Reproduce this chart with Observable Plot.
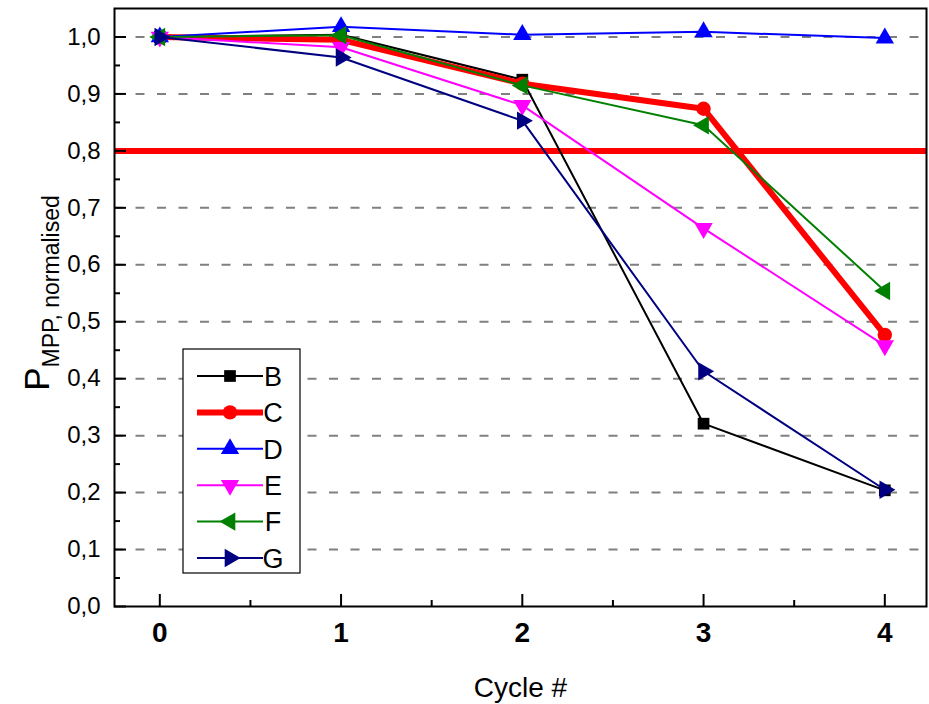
<!DOCTYPE html>
<html>
<head>
<meta charset="utf-8">
<script src="https://cdn.jsdelivr.net/npm/d3@7"></script>
<script src="https://cdn.jsdelivr.net/npm/@observablehq/plot@0.6"></script>
<style>
  html, body { margin: 0; padding: 0; background: #fff; }
  #chart { width: 929px; height: 704px; }
</style>
</head>
<body>
<div id="chart"></div>
<script>
// Normalised maximum-power-point output per cycle, for each sample
const cycles = [0, 1, 2, 3, 4];
const seriesNames = ["B", "C", "D", "E", "F", "G"];
const valuesB = [1.000, 1.004, 0.925, 0.321, 0.204];
const valuesC = [1.000, 0.995, 0.918, 0.874, 0.477];
const valuesD = [1.000, 1.018, 1.004, 1.009, 0.998];
const valuesE = [1.000, 0.982, 0.880, 0.664, 0.458];
const valuesF = [1.000, 1.003, 0.915, 0.845, 0.554];
const valuesG = [1.000, 0.964, 0.853, 0.413, 0.205];
const threshold = 0.8;
const yMajorTicks = [0, 0.1, 0.2, 0.3, 0.4, 0.5, 0.6, 0.7, 0.8, 0.9, 1.0];
const yMinorTicks = [0.05, 0.15, 0.25, 0.35, 0.45, 0.55, 0.65, 0.75, 0.85, 0.95];
const xMinorTicks = [0.5, 1.5, 2.5, 3.5];
const gridTicks = [0.1, 0.2, 0.3, 0.4, 0.5, 0.6, 0.7, 0.8, 0.9, 1.0];

const seriesValues = [valuesB, valuesC, valuesD, valuesE, valuesF, valuesG];

// Triangle symbol pointing in a given direction (degrees, 0 = up)
function triangle(angleDeg) {
  const a = angleDeg * Math.PI / 180, cos = Math.cos(a), sin = Math.sin(a);
  return {
    draw(ctx, size) {
      const y = -Math.sqrt(size / (Math.sqrt(3) * 3));
      const pts = [[0, 2 * y], [-Math.sqrt(3) * y, -y], [Math.sqrt(3) * y, -y]]
        .map(([px, py]) => [px * cos - py * sin, px * sin + py * cos]);
      ctx.moveTo(pts[0][0], pts[0][1]);
      ctx.lineTo(pts[1][0], pts[1][1]);
      ctx.lineTo(pts[2][0], pts[2][1]);
      ctx.closePath();
    }
  };
}

const styles = {
  B: {color: "#000000", width: 2, symbol: "square", r: 6.6},
  C: {color: "#ff0000", width: 6, symbol: "circle", r: 7.2},
  D: {color: "#0000ff", width: 2, symbol: triangle(0), r: 6.8},
  E: {color: "#ff00ff", width: 2, symbol: triangle(180), r: 6.8},
  F: {color: "#008000", width: 2, symbol: triangle(270), r: 6.8},
  G: {color: "#000080", width: 2, symbol: triangle(90), r: 6.8}
};

const rows = seriesNames.flatMap((s, i) =>
  cycles.map((c, j) => ({series: s, cycle: c, value: seriesValues[i][j]})));

const W = 929, H = 704;
const margin = {top: 8, right: 3, bottom: 98, left: 114};
const plotW = W - margin.left - margin.right;
const plotH = H - margin.top - margin.bottom;
const font = "'Liberation Sans', Arial, Helvetica, sans-serif";

const seriesMarks = seriesNames.flatMap(s => {
  const st = styles[s];
  const data = rows.filter(d => d.series === s);
  return [
    Plot.line(data, {x: "cycle", y: "value", stroke: st.color, strokeWidth: st.width}),
    Plot.dot(data, {x: "cycle", y: "value", symbol: st.symbol, r: st.r, fill: st.color, stroke: "none"})
  ];
});

const chart = Plot.plot({
  width: W,
  height: H,
  marginTop: margin.top,
  marginRight: margin.right,
  marginBottom: margin.bottom,
  marginLeft: margin.left,
  style: {fontFamily: font, background: "#fff", overflow: "visible"},
  x: {domain: [-0.25, 4.23], axis: null},
  y: {domain: [0, 1.05], axis: null},
  symbol: {type: "identity"},
  marks: [
    Plot.gridY(gridTicks, {stroke: "#808080", strokeOpacity: 1, strokeWidth: 2, strokeDasharray: "9,12.5"}),
    Plot.ruleY([threshold], {stroke: "#ff0000", strokeWidth: 6}),
    ...seriesMarks,
    // inward tick marks
    Plot.ruleX(cycles, {insetTop: plotH - 12, stroke: "#000", strokeWidth: 2}),
    Plot.ruleX(xMinorTicks, {insetTop: plotH - 6, stroke: "#000", strokeWidth: 2}),
    Plot.ruleY(yMajorTicks, {insetRight: plotW - 12, stroke: "#000", strokeWidth: 2}),
    Plot.ruleY(yMinorTicks, {insetRight: plotW - 6, stroke: "#000", strokeWidth: 2}),
    Plot.axisX({ticks: cycles, tickSize: 0, tickPadding: 16, fontSize: 28, fontWeight: "bold", fill: "#000", label: null, tickFormat: d => String(d)}),
    Plot.axisY({ticks: yMajorTicks, tickSize: 0, tickPadding: 14, fontSize: 24, fill: "#000", label: null,
      tickFormat: d => d.toFixed(1).replace(".", ",")}),
    Plot.text(["Cycle #"], {frameAnchor: "bottom", dy: 90, fontSize: 28, fill: "#000"}),
    Plot.frame({stroke: "#000", strokeWidth: 2})
  ]
});

document.getElementById("chart").appendChild(chart);

const svg = d3.select(chart);

// Y axis title with subscript
const yTitle = svg.append("text")
  .attr("transform", `translate(49, ${margin.top + plotH / 2 - 14}) rotate(-90)`)
  .attr("text-anchor", "middle")
  .attr("font-family", font)
  .attr("fill", "#000");
yTitle.append("tspan").attr("font-size", 35).text("P");
yTitle.append("tspan").attr("font-size", 23).attr("dy", 10).text("MPP, normalised");

// Legend box
const legend = svg.append("g").attr("transform", "translate(183, 349)");
legend.append("rect").attr("width", 117).attr("height", 224)
  .attr("fill", "#fff").attr("stroke", "#000").attr("stroke-width", 1.2);
seriesNames.forEach((s, i) => {
  const st = styles[s];
  const cy = 27 + i * 36.4;
  const g = legend.append("g").attr("transform", `translate(0, ${cy})`);
  g.append("line").attr("x1", 14).attr("x2", 80).attr("y1", 0).attr("y2", 0)
    .attr("stroke", st.color).attr("stroke-width", st.width);
  const symType = typeof st.symbol === "string"
    ? (st.symbol === "square" ? d3.symbolSquare : d3.symbolCircle) : st.symbol;
  g.append("path").attr("transform", "translate(47, 0)")
    .attr("d", d3.symbol(symType, Math.PI * st.r * st.r)())
    .attr("fill", st.color);
  g.append("text").attr("x", 90).attr("y", 0).attr("dy", "0.36em")
    .attr("font-size", 27).attr("font-family", font).attr("fill", "#000").text(s);
});
</script>
</body>
</html>
